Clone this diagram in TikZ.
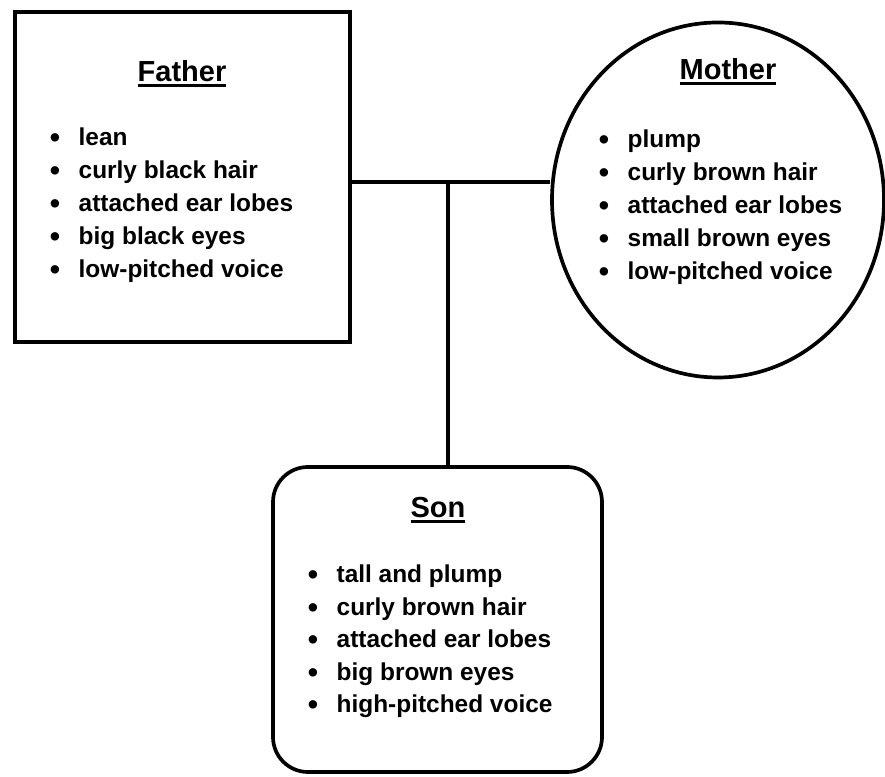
\documentclass[tikz,border=0pt]{standalone}
\usepackage{fontspec}
\setmainfont{Liberation Sans}
\usetikzlibrary{shapes.geometric, positioning}
\newsavebox{\headbox}
\newcommand{\heading}[1]{\sbox{\headbox}{#1}\rlap{\rule[-2.6pt]{\wd\headbox}{1.7pt}}\usebox{\headbox}}
\newcommand{\trait}[1]{\makebox[1.18em][l]{\raisebox{-0.08em}{\scalebox{1.2}{\textbullet}}}#1}

\begin{document}
\begin{tikzpicture}[
  line width=2.1pt,
  card/.style={draw, minimum width=6.7cm, minimum height=6.6cm, inner sep=0pt},
  title/.style={anchor=base, inner sep=0pt, font=\fontsize{16.5}{20}\selectfont\bfseries},
  item/.style={anchor=base west, inner sep=0pt, font=\fontsize{13.9}{17}\selectfont\bfseries}
]
\useasboundingbox (0,0) rectangle (17.7,15.54);

% --- the three people ---
\node[card] (father) at (3.65,12.0) {};
\node[draw, ellipse, minimum width=6.64cm, minimum height=7.1cm, inner sep=0pt] (mother) at (14.36,11.54) {};
\node[card, rounded corners=0.7cm, minimum width=6.58cm, minimum height=6.1cm] (son) at (8.75,3.15) {};

% --- names ---
\node[title] (ftitle) at (3.64,13.90) {\heading{Father}};
\node[title] (mtitle) at (14.56,13.94) {\heading{Mother}};
\node[title] (stitle) at (8.76,5.18) {\heading{Son}};

% --- traits ---
\foreach \t [count=\i] in {lean, curly black hair, attached ear lobes, big black eyes, low-pitched voice}
  \node[item] (f\i) at (0.96,{12.62-(\i-1)*0.66}) {\trait{\t}};
\foreach \t [count=\i] in {plump, curly brown hair, attached ear lobes, small brown eyes, low-pitched voice}
  \node[item] (m\i) at (11.94,{12.58-(\i-1)*0.66}) {\trait{\t}};
\foreach \t [count=\i] in {tall and plump, curly brown hair, attached ear lobes, big brown eyes, high-pitched voice}
  \node[item] (s\i) at (6.12,{3.88-(\i-1)*0.65}) {\trait{\t}};

% --- family lines ---
\coordinate (join) at (8.96,11.90);
\draw (father.east |- join) -- (mother.west |- join);
\draw (join) -- (join |- son.north);
\end{tikzpicture}
\end{document}
